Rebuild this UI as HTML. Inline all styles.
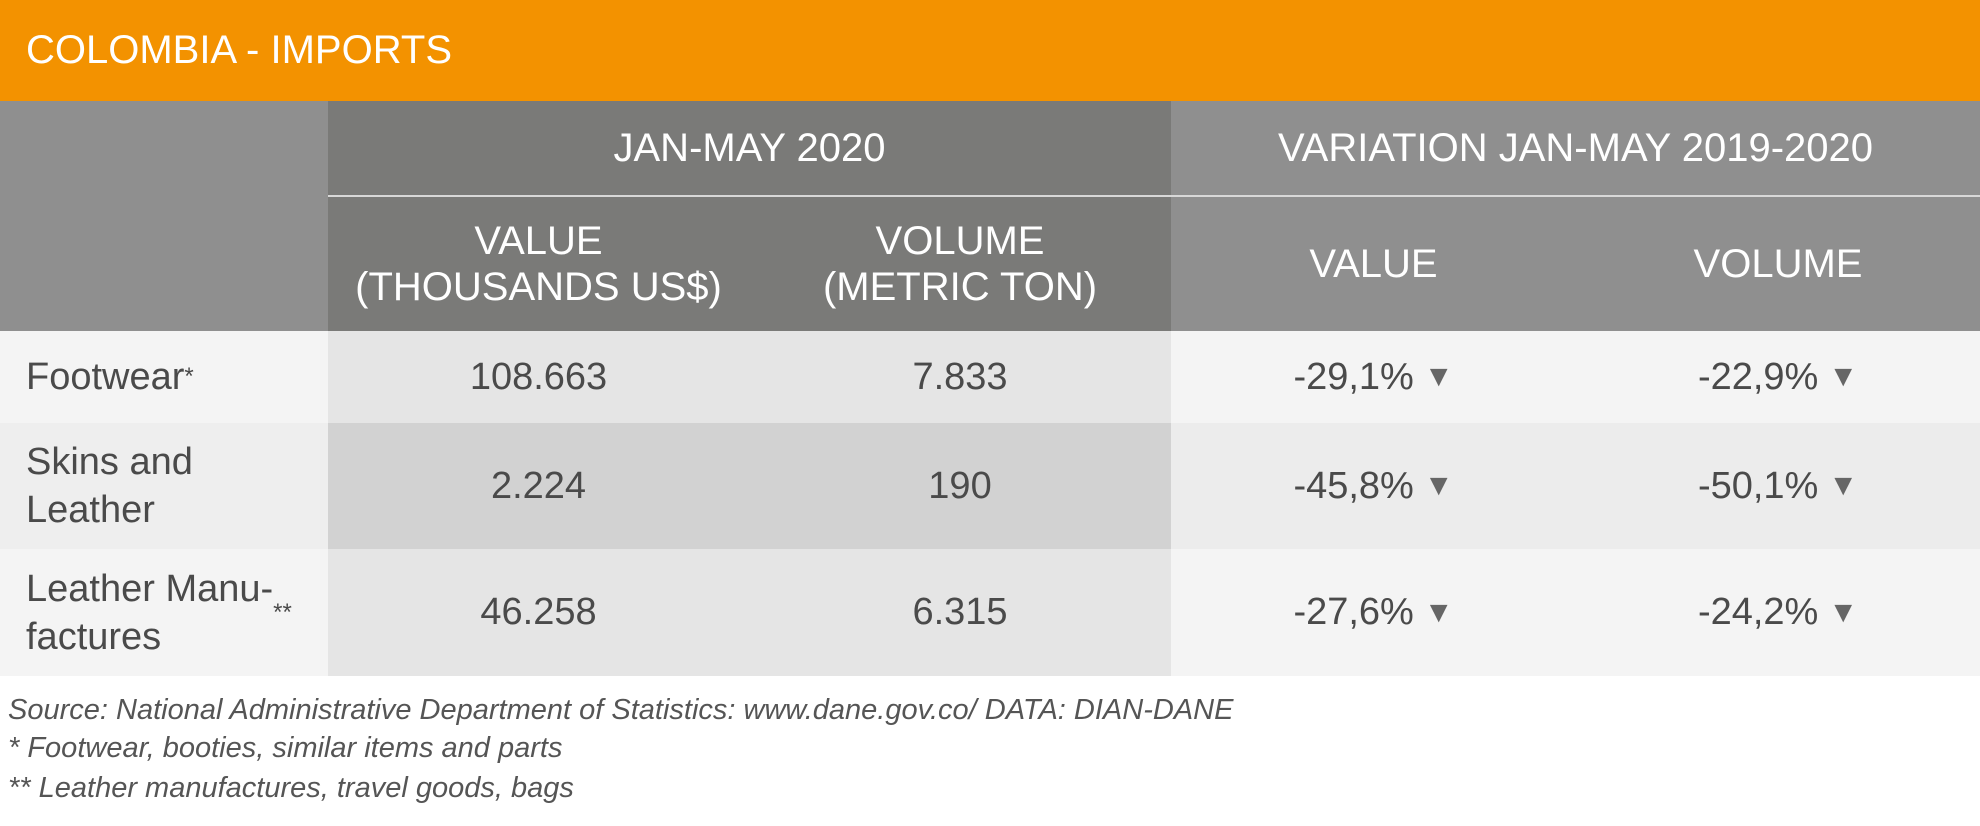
<!DOCTYPE html>
<html><head><meta charset="utf-8"><style>
body{margin:0;width:1980px;height:826px;background:#fff;font-family:"Liberation Sans Narrow","Liberation Sans",sans-serif;overflow:hidden;position:relative}
.a{position:absolute;box-sizing:border-box}
.c{display:flex;align-items:center;justify-content:center;text-align:center}
.h{color:#fff;font-size:40px;line-height:46px}
.d{color:#4a4a4a;font-size:38px}
.l{color:#4a4a4a;font-size:38px;line-height:48px;padding-left:26px;display:flex;align-items:center}
.tri{color:#666;font-size:30px;margin-left:10px}
.f{color:#555;font-style:italic;font-size:29px;left:8px}
</style></head><body>
<div class="a" style="left:0;top:0;width:1980px;height:101px;background:#f39200;color:#fff;font-size:40px;line-height:101px;padding-left:26px">COLOMBIA - IMPORTS</div>
<div class="a" style="left:0;top:101px;width:328px;height:230px;background:#8f8f8f"></div>
<div class="a" style="left:328px;top:101px;width:843px;height:230px;background:#7a7a78"></div>
<div class="a" style="left:1171px;top:101px;width:809px;height:230px;background:#8f8f8f"></div>
<div class="a" style="left:328px;top:195px;width:1652px;height:2px;background:#d8d8d8"></div>
<div class="a c h" style="left:328px;top:101px;width:843px;height:94px">JAN-MAY 2020</div>
<div class="a c h" style="left:1171px;top:101px;width:809px;height:94px">VARIATION JAN-MAY 2019-2020</div>
<div class="a c h" style="left:328px;top:197px;width:421px;height:134px">VALUE<br>(THOUSANDS US$)</div>
<div class="a c h" style="left:749px;top:197px;width:422px;height:134px">VOLUME<br>(METRIC TON)</div>
<div class="a c h" style="left:1171px;top:197px;width:405px;height:134px">VALUE</div>
<div class="a c h" style="left:1576px;top:197px;width:404px;height:134px">VOLUME</div>
<div id="rows"></div>
<div class="a f" style="top:694px">Source: National Administrative Department of Statistics: www.dane.gov.co/ DATA: DIAN-DANE</div>
<div class="a f" style="top:732px">* Footwear, booties, similar items and parts</div>
<div class="a f" style="top:772px">** Leather manufactures, travel goods, bags</div>
<script>
const labels=["Footwear <sup style='font-size:24px'>*</sup>","Skins and<br>Leather","Leather Manu-<br>factures <sup style='font-size:24px'>**</sup>"];
const values=["108.663","2.224","46.258"];
const volumes=["7.833","190","6.315"];
const varValue=["-29,1%","-45,8%","-27,6%"];
const varVolume=["-22,9%","-50,1%","-24,2%"];
const tops=[331,423,549],hs=[92,126,127];
const bgL=["#f4f4f4","#eeeeee","#f4f4f4"],bgM=["#e5e5e5","#d2d2d2","#e5e5e5"],bgR=["#f4f4f4","#ececec","#f4f4f4"];
const root=document.getElementById('rows');
function cell(x,w,i,html,bg,cls,name){const e=document.createElement('div');e.className='a '+cls;


e.style.cssText=`left:${x}px;top:${tops[i]}px;width:${w}px;height:${hs[i]}px;background:${bg}`;e.innerHTML=html;root.appendChild(e);}
for(let i=0;i<3;i++){
cell(0,328,i,labels[i],bgL[i],'l','row-label');
cell(328,421,i,values[i],bgM[i],'c d','value-cell');
cell(749,422,i,volumes[i],bgM[i],'c d','volume-cell');
cell(1171,405,i,varValue[i]+"<span class='tri'>▼</span>",bgR[i],'c d','var-value-cell');
cell(1576,404,i,varVolume[i]+"<span class='tri'>▼</span>",bgR[i],'c d','var-volume-cell');
}
</script>
</body></html>
